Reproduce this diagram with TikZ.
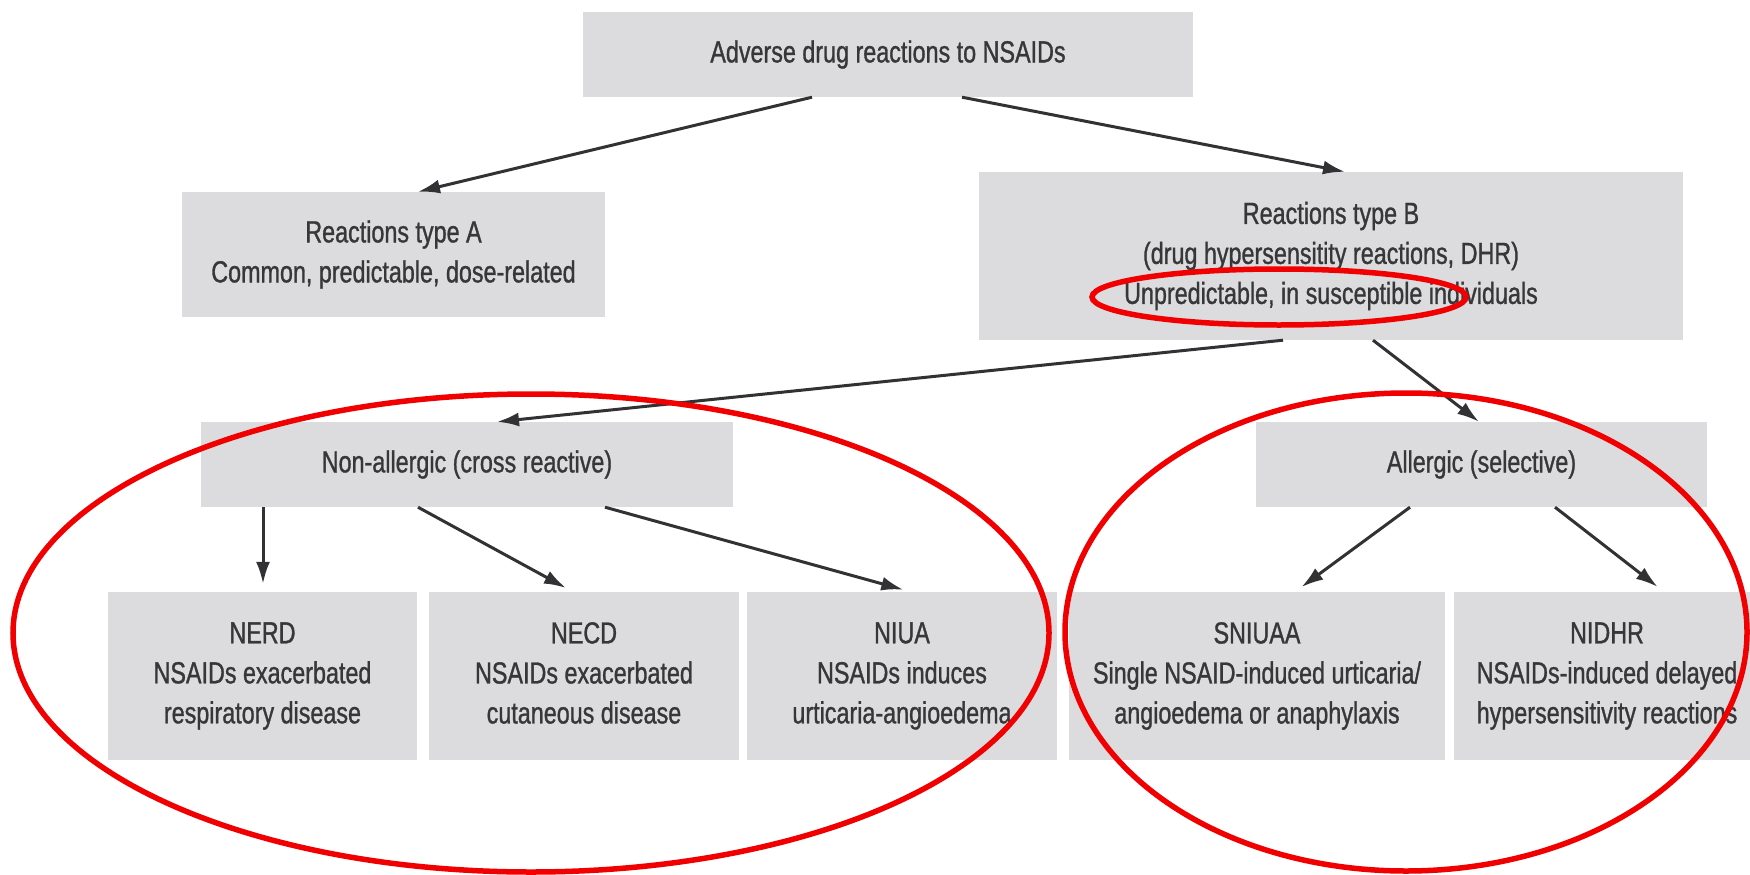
\documentclass[tikz,border=0pt]{standalone}
\usepackage{fontspec}
\newfontfamily\dfont{Liberation Sans}[FakeStretch=0.765,FakeBold=1.0]
\usetikzlibrary{arrows.meta}
\definecolor{boxgray}{RGB}{220,219,221}
\definecolor{txtgray}{RGB}{55,55,58}
\definecolor{arrgray}{RGB}{50,50,52}
\definecolor{markred}{RGB}{240,0,0}
\tikzset{
  gbox/.style={fill=boxgray, draw=none, inner sep=0pt, align=center,
    text=txtgray, font=\dfont\fontsize{30.5}{40}\selectfont},
  arr/.style={draw=arrgray, line width=3pt, -{Latex[length=22pt,width=14pt]}},
  redring/.style={draw=markred, line width=5.5pt}
}
\begin{document}
\begin{tikzpicture}[x=1pt,y=-1pt]
\useasboundingbox[fill=white] (0,0) rectangle (1750,875);
% boxes
\node[gbox, minimum width=610pt, minimum height=85pt] (top) at (888,54.5) {Adverse drug reactions to NSAIDs};
\node[gbox, minimum width=423pt, minimum height=125pt] (A) at (393.5,254.5) {Reactions type A\\Common, predictable, dose-related};
\node[gbox, minimum width=704pt, minimum height=168pt] (B) at (1331,256) {Reactions type B\\(drug hypersensitity reactions, DHR)\\Unpredictable, in susceptible individuals};
\node[gbox, minimum width=532pt, minimum height=85pt] (NA) at (467,464.5) {Non-allergic (cross reactive)};
\node[gbox, minimum width=451pt, minimum height=85pt] (AL) at (1481.5,464.5) {Allergic (selective)};
\node[gbox, minimum width=309pt, minimum height=168pt] (NERD) at (262.5,676) {NERD\\NSAIDs exacerbated\\respiratory disease};
\node[gbox, minimum width=310pt, minimum height=168pt] (NECD) at (584,676) {NECD\\NSAIDs exacerbated\\cutaneous disease\vphantom{y}};
\node[gbox, minimum width=310pt, minimum height=168pt] (NIUA) at (902,676) {NIUA\\NSAIDs induces\\urticaria-angioedema};
\node[gbox, minimum width=376pt, minimum height=168pt] (SNIUAA) at (1257,676) {SNIUAA\\Single NSAID-induced urticaria/\\angioedema or anaphylaxis};
\node[gbox, minimum width=306pt, minimum height=168pt] (NIDHR) at (1607,676) {NIDHR\\NSAIDs-induced delayed\\hypersensitivity reactions};
% arrows
\draw[arr] (top.south -| 812,0) -- (A.north -| 418,0);
\draw[arr] (top.south -| 962,0) -- (B.north -| 1345,0);
\draw[arr] (B.south -| 1283,0) -- (NA.north -| 497,0);
\draw[arr] (B.south -| 1373,0) -- (AL.north -| 1479,0);
\draw[arr, shorten >=8pt] (NA.south -| 263,0) -- (NERD.north -| 263,0);
\draw[arr, shorten >=8pt] (NA.south -| 418,0) -- (NECD.north -| 573,0);
\draw[arr, shorten >=8pt] (NA.south -| 605,0) -- (NIUA.north -| 911,0);
\draw[arr, shorten >=8pt] (AL.south -| 1410,0) -- (SNIUAA.north -| 1295,0);
\draw[arr, shorten >=8pt] (AL.south -| 1555,0) -- (NIDHR.north -| 1664,0);
% red highlight ellipses
\draw[redring] (1279,297) ellipse [x radius=187, y radius=28];
\draw[redring] (531,633) ellipse [x radius=518, y radius=239];
\draw[redring] (1406,632) ellipse [x radius=341, y radius=239];
\end{tikzpicture}
\end{document}
